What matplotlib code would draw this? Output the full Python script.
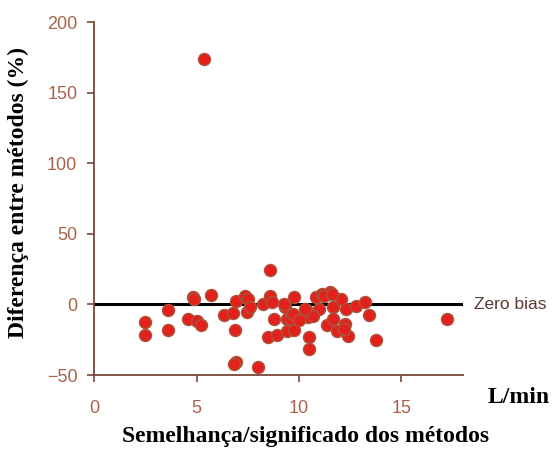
import matplotlib
matplotlib.use("Agg")
import matplotlib.pyplot as plt

# mean flow of the two methods (L/min) and relative difference (%)
mean_flow = [2.5, 2.5, 3.6, 3.6, 4.85, 4.9, 5.7, 4.6, 5.0, 5.2,
             5.35, 6.35, 6.8, 6.95, 7.35, 7.5, 7.45, 7.6, 6.9, 6.95,
             6.85, 8.0, 8.25, 8.6, 8.6, 8.7, 9.3, 8.8, 8.5, 8.95,
             9.4, 9.4, 9.25, 9.75, 9.6, 9.75, 10.05, 10.4, 10.45, 10.5,
             10.5, 10.85, 11.1, 11.5, 11.0, 11.65, 12.05, 11.35, 11.65, 11.85,
             12.25, 12.4, 11.2, 11.6, 12.3, 12.8, 13.2, 13.4, 12.2, 13.75,
             17.2, 10.7, 10.3, 9.7, 10.0]
diff_pct = [-12.5, -22, -4, -18, 5.5, 3.5, 7, -10, -11.5, -14.5,
            174, -7.5, -6, 2.5, 6, 4, -5.5, -2, -18, -40.5,
            -42, -44.5, 0.2, 24.5, 6, 1.5, -2, -10.5, -23, -22,
            -18.5, -10.5, 0.2, 5, -10.5, -18, -9.5, -4.5, -9, -23,
            -31.5, 5, 7.5, 8.5, -3.3, -2, 4, -14.5, -10.5, -19,
            -14, -22.5, 6, 7.5, -3.3, -1, 1.5, -7.5, -17.5, -25.5,
            -10, -8, -3.3, -7, -11]
zero_bias = 0

xticks = [0, 5, 10, 15]
yticks = [-50, 0, 50, 100, 150, 200]

axis_col = "#7a4538"
label_col = "#a8624c"
serif = ["Liberation Serif", "DejaVu Serif"]
sans = ["Liberation Sans", "DejaVu Sans"]

fig = plt.figure(figsize=(5.54, 4.49), dpi=100)
ax = fig.add_axes([0.1697, 0.1648, 0.666, 0.786])

ax.axhline(zero_bias, color="black", lw=2.2, zorder=1)
ax.scatter(mean_flow, diff_pct, s=75, color="#e3201b", edgecolor="#a8553c",
           linewidth=1.0, zorder=3)

ax.set_xlim(0, 18)
ax.set_ylim(-50, 200)
ax.set_xticks(xticks)
ax.set_yticks(yticks)
for side in ("top", "right"):
    ax.spines[side].set_visible(False)
for side in ("left", "bottom"):
    ax.spines[side].set_color(axis_col)
    ax.spines[side].set_linewidth(1.3)
ax.tick_params(axis="both", colors=axis_col, direction="out", length=5, width=1.2,
               labelcolor=label_col, labelsize=13)
ax.tick_params(axis="x", pad=13)
ax.tick_params(axis="y", pad=7)
for lbl in ax.get_xticklabels() + ax.get_yticklabels():
    lbl.set_family(sans)

ax.text(18.55, zero_bias, "Zero bias", fontsize=12.5, color="#5a3a30",
        va="center", ha="left", family=sans)

fig.text(0.0325, 0.572, "Diferença entre métodos (%)", family=serif,
         fontweight="bold", fontsize=17, rotation=90, ha="center", va="center")
fig.text(0.551, 0.027, "Semelhança/significado dos métodos", family=serif,
         fontweight="bold", fontsize=17, ha="center", va="center")
fig.text(0.993, 0.1136, "L/min", family=serif, fontweight="bold", fontsize=17,
         ha="right", va="center")

fig.savefig("out.png", dpi=100)
